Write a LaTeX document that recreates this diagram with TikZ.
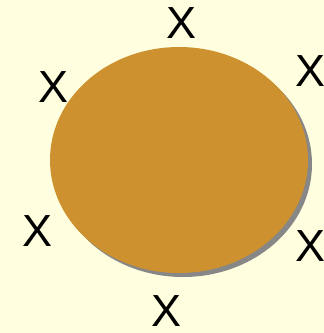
\documentclass[tikz,border=0pt]{standalone}
\usepackage{fontspec}
\setmainfont{Liberation Sans}
\usepackage{xcolor}
\usepackage{tikz}
\usetikzlibrary{positioning}

\definecolor{paper}{HTML}{FFFFE0}
\definecolor{blob}{HTML}{CD922F}
\definecolor{blobshadow}{HTML}{878787}

\begin{document}
\begin{tikzpicture}[x=1pt,y=-1pt,
    mark label/.style={font=\fontsize{45}{45}\selectfont, inner sep=0pt, text=black}]
        % Background
        \fill[paper] (0,0) rectangle (324,333);
        \useasboundingbox (0,0) rectangle (324,333);

        % Shadow, then the ellipse itself
        \fill[blobshadow] (183,164) ellipse [x radius=129, y radius=113];
        \fill[blob] (179,160) ellipse [x radius=129, y radius=113];

        % Labels round the ellipse
        \node[mark label] (xtop) at (182,23) {X};
        \node[mark label] (xupleft) at (54,87) {X};
        \node[mark label] (xupright) at (311,71) {X};
        \node[mark label] (xlowleft) at (38,231) {X};
        \node[mark label] (xlowright) at (311,246) {X};
        \node[mark label] (xbottom) at (167,311) {X};
    \end{tikzpicture}
\end{document}
